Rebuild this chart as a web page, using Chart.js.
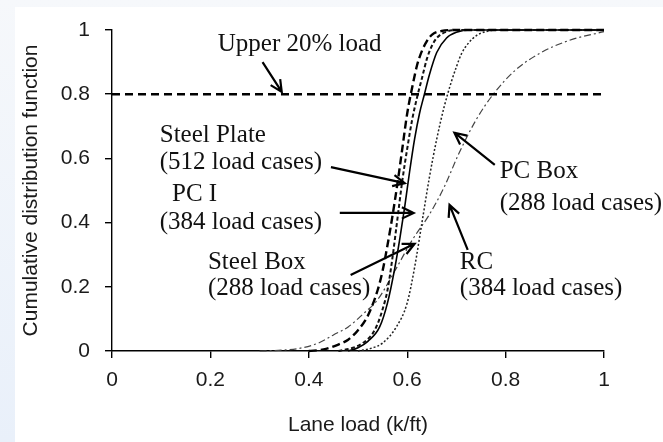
<!DOCTYPE html>
<html>
<head>
<meta charset="utf-8">
<script src="https://cdn.jsdelivr.net/npm/chart.js@4/dist/chart.umd.min.js"></script>
<style>
  html, body { margin: 0; padding: 0; background: #eef3fa; }
  #wrap { position: absolute; left: 0; top: 0; width: 663px; height: 442px; }
</style>
</head>
<body>
<div id="wrap"><canvas id="cdf" width="663" height="442"></canvas></div>
<script>
// lane load (k/ft) and cumulative probability
const steelPlateX = [0.40, 0.43, 0.46, 0.48, 0.50, 0.52, 0.54, 0.55, 0.56, 0.57, 0.58, 0.59, 0.60, 0.61, 0.62, 0.63, 0.64, 0.65, 0.67, 0.70, 1.00];
const steelPlateY = [0, 0.005, 0.02, 0.035, 0.065, 0.11, 0.19, 0.25, 0.33, 0.42, 0.52, 0.63, 0.74, 0.82, 0.89, 0.935, 0.965, 0.985, 0.997, 1, 1];

const steelBoxX = [0.46, 0.49, 0.51, 0.53, 0.54, 0.55, 0.56, 0.57, 0.58, 0.59, 0.60, 0.61, 0.62, 0.63, 0.64, 0.65, 0.66, 0.68, 0.70, 1.00];
const steelBoxY = [0, 0.01, 0.025, 0.055, 0.085, 0.13, 0.19, 0.29, 0.41, 0.53, 0.63, 0.72, 0.79, 0.85, 0.91, 0.95, 0.975, 0.995, 1, 1];

const pcIX = [0.48, 0.50, 0.52, 0.544, 0.56, 0.575, 0.585, 0.595, 0.605, 0.615, 0.625, 0.635, 0.645, 0.66, 0.68, 0.70, 0.73, 1.00];
const pcIY = [0, 0.01, 0.03, 0.075, 0.15, 0.26, 0.35, 0.45, 0.56, 0.66, 0.74, 0.80, 0.86, 0.93, 0.975, 0.993, 1, 1];

const pcBoxX = [0.50, 0.53, 0.55, 0.578, 0.60, 0.615, 0.63, 0.645, 0.66, 0.675, 0.69, 0.70, 0.71, 0.725, 0.74, 0.76, 0.78, 1.00];
const pcBoxY = [0, 0.01, 0.025, 0.075, 0.15, 0.26, 0.40, 0.54, 0.66, 0.76, 0.84, 0.885, 0.925, 0.96, 0.982, 0.995, 1, 1];

const rcX = [0.30, 0.35, 0.38, 0.42, 0.45, 0.48, 0.51, 0.54, 0.575, 0.61, 0.645, 0.675, 0.705, 0.74, 0.775, 0.82, 0.87, 0.93, 1.00];
const rcY = [0, 0.003, 0.008, 0.025, 0.05, 0.075, 0.115, 0.16, 0.25, 0.345, 0.425, 0.51, 0.615, 0.72, 0.80, 0.875, 0.928, 0.968, 0.995];

const upperX = [0, 1];
const upperY = [0.8, 0.8];

const xTicks = [0, 0.2, 0.4, 0.6, 0.8, 1];
const yTicks = [0, 0.2, 0.4, 0.6, 0.8, 1];

// annotation text, anchored in data units (left edge, middle of line)
const labels = [
  { text: "Upper 20% load", x: 0.215, y: 0.956 },
  { text: "Steel Plate", x: 0.097, y: 0.673 },
  { text: "(512 load cases)", x: 0.097, y: 0.586 },
  { text: "PC I", x: 0.122, y: 0.489 },
  { text: "(384 load cases)", x: 0.097, y: 0.402 },
  { text: "Steel Box", x: 0.195, y: 0.277 },
  { text: "(288 load cases)", x: 0.195, y: 0.196 },
  { text: "PC Box", x: 0.788, y: 0.558 },
  { text: "(288 load cases)", x: 0.788, y: 0.461 },
  { text: "RC", x: 0.707, y: 0.277 },
  { text: "(384 load cases)", x: 0.707, y: 0.196 },
];

// arrows: tail x, tail y, head x, head y
const arrows = [
  [0.306, 0.90, 0.345, 0.807],
  [0.445, 0.573, 0.595, 0.523],
  [0.463, 0.430, 0.613, 0.430],
  [0.485, 0.237, 0.615, 0.334],
  [0.778, 0.580, 0.696, 0.680],
  [0.723, 0.315, 0.686, 0.455],
];

const pts = (xs, ys) => xs.map((x, i) => ({ x, y: ys[i] }));

const line = (label, xs, ys, width, dash, color) => ({
  label,
  data: pts(xs, ys),
  showLine: true,
  borderColor: color,
  borderWidth: width,
  borderDash: dash,
  pointRadius: 0,
  cubicInterpolationMode: "monotone",
  clip: 4,
});

const backdrop = {
  id: "backdrop",
  beforeDraw(chart) {
    const ctx = chart.ctx;
    ctx.save();
    const g = ctx.createLinearGradient(0, 0, 0, 442);
    g.addColorStop(0, "#f6f8fb");
    g.addColorStop(1, "#e9f0fa");
    ctx.fillStyle = g;
    ctx.fillRect(0, 0, 663, 442);
    ctx.fillStyle = "#ffffff";
    ctx.fillRect(15, 7, 648, 435);
    ctx.restore();
  },
};

const drawArrow = (ctx, x1, y1, x2, y2) => {
  const a = Math.atan2(y2 - y1, x2 - x1);
  const h = 13;
  ctx.beginPath();
  ctx.moveTo(x1, y1);
  ctx.lineTo(x2, y2);
  ctx.moveTo(x2 - h * Math.cos(a - 0.45), y2 - h * Math.sin(a - 0.45));
  ctx.lineTo(x2, y2);
  ctx.lineTo(x2 - h * Math.cos(a + 0.45), y2 - h * Math.sin(a + 0.45));
  ctx.stroke();
};

const annotate = {
  id: "annotate",
  afterDatasetsDraw(chart) {
    const { ctx, scales: { x, y } } = chart;
    ctx.save();
    ctx.fillStyle = "#111";
    ctx.strokeStyle = "#000";
    ctx.lineWidth = 2.2;
    ctx.font = '25px "Liberation Serif", "Times New Roman", serif';
    ctx.textBaseline = "middle";
    labels.forEach((l) => ctx.fillText(l.text, x.getPixelForValue(l.x), y.getPixelForValue(l.y)));
    arrows.forEach(([x1, y1, x2, y2]) => {
      drawArrow(ctx, x.getPixelForValue(x1), y.getPixelForValue(y1), x.getPixelForValue(x2), y.getPixelForValue(y2));
    });
    ctx.restore();
  },
};

const tickFmt = (v) => String(Number(v.toFixed(1)));
const sans = '"Liberation Sans", Arial, sans-serif';

new Chart(document.getElementById("cdf"), {
  type: "scatter",
  data: {
    datasets: [
      line("Upper 20% load", upperX, upperY, 2.4, [8, 5], "#000"),
      line("Steel Plate", steelPlateX, steelPlateY, 2.4, [8, 4], "#000"),
      line("Steel Box", steelBoxX, steelBoxY, 2, [4, 2.5], "#111"),
      line("PC I", pcIX, pcIY, 1.6, [], "#000"),
      line("PC Box", pcBoxX, pcBoxY, 1.5, [2, 2], "#222"),
      line("RC", rcX, rcY, 1.2, [7, 3, 2, 3], "#444"),
    ],
  },
  options: {
    responsive: false,
    animation: false,
    layout: { padding: { top: 30, right: 59, left: 0, bottom: 0 } },
    plugins: { legend: { display: false }, tooltip: { enabled: false } },
    scales: {
      x: {
        type: "linear",
        min: 0,
        max: 1,
        afterBuildTicks: (s) => { s.ticks = xTicks.map((v) => ({ value: v })); },
        afterFit: (s) => { s.height = 91; },
        border: { color: "#000", width: 1.4 },
        grid: { drawOnChartArea: false, color: "#000", tickLength: 7, lineWidth: 1.4 },
        ticks: {
          color: "#1a1a1a",
          padding: 10,
          font: { family: sans, size: 21 },
          callback: tickFmt,
        },
        title: {
          display: true,
          text: "Lane load (k/ft)",
          color: "#1a1a1a",
          font: { family: sans, size: 21 },
          padding: { top: 0, bottom: 4 },
        },
      },
      y: {
        type: "linear",
        min: 0,
        max: 1,
        afterBuildTicks: (s) => { s.ticks = yTicks.map((v) => ({ value: v })); },
        afterFit: (s) => { s.width = 112; },
        border: { color: "#000", width: 1.4 },
        grid: { drawOnChartArea: false, color: "#000", tickLength: 7, lineWidth: 1.4 },
        ticks: {
          color: "#1a1a1a",
          padding: 15,
          font: { family: sans, size: 21 },
          callback: tickFmt,
        },
        title: {
          display: true,
          text: "Cumulative distribution function",
          color: "#1a1a1a",
          font: { family: sans, size: 21 },
          padding: { top: 19, bottom: 0 },
        },
      },
    },
  },
  plugins: [backdrop, annotate],
});
</script>
</body>
</html>
